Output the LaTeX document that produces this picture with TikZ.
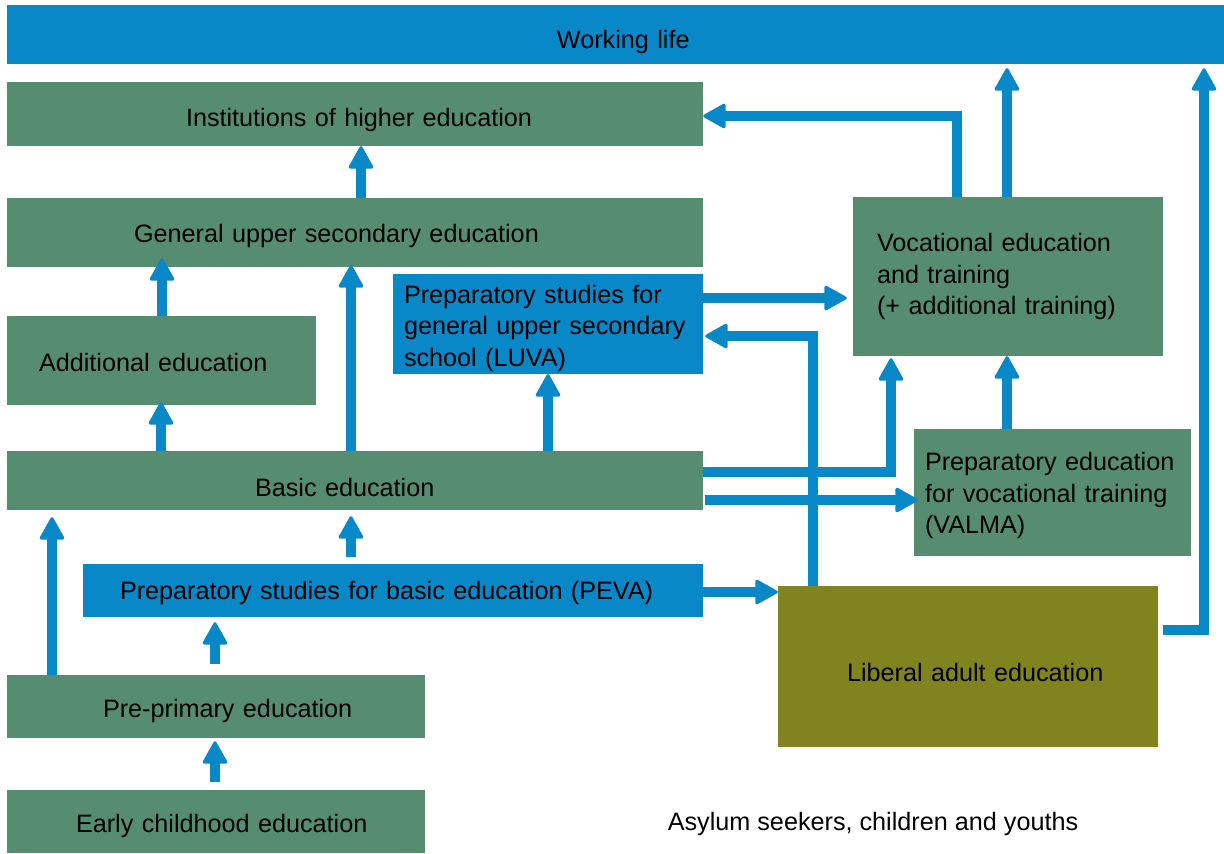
\documentclass[tikz,border=0pt]{standalone}
\usepackage{fontspec}
\setmainfont{Liberation Sans}
\usetikzlibrary{arrows.meta,calc}
\definecolor{eblue}{RGB}{8,136,198}
\definecolor{egreen}{RGB}{86,141,112}
\definecolor{eolive}{RGB}{128,131,30}
\newcommand\lowtxt[2]{\raisebox{-#1}[0pt][0pt]{\mbox{#2}}}
\begin{document}
\begin{tikzpicture}[x=1pt,y=-1pt,
  every node/.style={font=\fontsize{25.2}{31.5}\selectfont, text=black},
  box/.style={draw=none, inner ysep=0pt, inner xsep=10pt, align=left},
  gbox/.style={box, fill=egreen},
  bbox/.style={box, fill=eblue},
  obox/.style={box, fill=eolive},
  arr/.style={draw=eblue, line width=10pt, line join=miter,
    -{Triangle[width=26pt,length=24pt,round,line width=3pt]}}
]
\useasboundingbox (0,0) rectangle (1224,854);
% boxes
\node[bbox, minimum width=1217pt, minimum height=59pt, text width=1197pt] (work) at (615.5,34.5) {\hspace*{540pt}\lowtxt{13.5pt}{Working life}};
\node[gbox, minimum width=696pt, minimum height=64pt, text width=676pt] (inst) at (355,114) {\hspace*{169pt}\lowtxt{12.5pt}{Institutions of higher education}};
\node[gbox, minimum width=696pt, minimum height=69pt, text width=676pt] (gen) at (355,232.5) {\hspace*{117pt}\lowtxt{9.5pt}{General upper secondary education}};
\node[gbox, minimum width=309pt, minimum height=89pt, text width=289pt] (add) at (161.5,360.5) {\hspace*{22pt}\lowtxt{11pt}{Additional education}};
\node[bbox, minimum width=310pt, minimum height=100pt, inner xsep=11pt, text width=288pt] (luva) at (548,324) {\rule{0pt}{27pt}\mbox{Preparatory studies for}\\\mbox{general upper secondary}\\\mbox{school (LUVA)}};
\node[gbox, minimum width=696pt, minimum height=59pt, text width=676pt] (basic) at (355,480.5) {\hspace*{238pt}\lowtxt{16pt}{Basic education}};
\node[bbox, minimum width=620pt, minimum height=53pt, text width=600pt] (peva) at (393,590.5) {\hspace*{27pt}\lowtxt{8.5pt}{Preparatory studies for basic education (PEVA)}};
\node[gbox, minimum width=418pt, minimum height=63pt, text width=398pt] (pre) at (216,706.5) {\hspace*{86pt}\lowtxt{10.5pt}{Pre-primary education}};
\node[gbox, minimum width=418pt, minimum height=63pt, text width=398pt] (early) at (216,821.5) {\hspace*{59pt}\lowtxt{10.5pt}{Early childhood education}};
\node[gbox, minimum width=310pt, minimum height=159pt, inner xsep=24pt, text width=262pt] (voc) at (1008,276.5) {\mbox{Vocational education}\\\mbox{and training}\\\mbox{(+ additional training)}};
\node[gbox, minimum width=277pt, minimum height=127pt, inner xsep=11pt, text width=255pt] (valma) at (1052.5,492.5) {\rule{0pt}{25pt}\mbox{Preparatory education}\\\mbox{for vocational training}\\\mbox{(VALMA)}};
\node[obox, minimum width=380pt, minimum height=161pt, text width=360pt] (lib) at (968,666.5) {\hspace*{59pt}\lowtxt{15pt}{Liberal adult education}};
\node (asy) at (873,824) {Asylum seekers, children and youths};
% arrows
\draw[arr] (voc.north -| 957,0) |- (inst.east |- 0,116);
\draw[arr, shorten >=4pt] (voc.north -| 1007,0) -- (work.south -| 1007,0);
\draw[arr, shorten >=4pt] ($(lib.east |- 0,630)+(5,0)$) -| (work.south -| 1204,0);
\draw[arr] (gen.north -| 361,0) -- (inst.south -| 361,0);
\draw[arr, shorten >=-9pt] (add.north -| 162,0) -- (gen.south -| 162,0);
\draw[arr, shorten >=-2pt] (basic.north -| 351,0) -- (gen.south -| 351,0);
\draw[arr, shorten >=-3pt] (basic.north -| 161,0) -- (add.south -| 161,0);
\draw[arr] (basic.north -| 548,0) -- (luva.south -| 548,0);
\draw[arr, shorten >=6pt] (luva.east |- 0,298) -- (voc.west |- 0,298);
\draw[arr, shorten >=2pt] (lib.north -| 813,0) |- (luva.east |- 0,336);
\draw[arr, shorten >=2pt] (basic.east |- 0,472) -| (voc.south -| 891,0);
\draw[arr, shorten <=2pt, shorten >=-4pt] (basic.east |- 0,500) -- (valma.west |- 0,500);
\draw[arr] (valma.north -| 1007,0) -- (voc.south -| 1007,0);
\draw[arr, shorten <=7pt, shorten >=6pt] (peva.north -| 351,0) -- (basic.south -| 351,0);
\draw[arr] (peva.east |- 0,592) -- (lib.west |- 0,592);
\draw[arr, shorten >=7pt] (pre.north -| 52,0) -- (basic.south -| 52,0);
\draw[arr, shorten <=11pt, shorten >=5pt] (pre.north -| 215,0) -- (peva.south -| 215,0);
\draw[arr, shorten <=8pt, shorten >=3pt] (early.north -| 215,0) -- (pre.south -| 215,0);
\end{tikzpicture}
\end{document}
